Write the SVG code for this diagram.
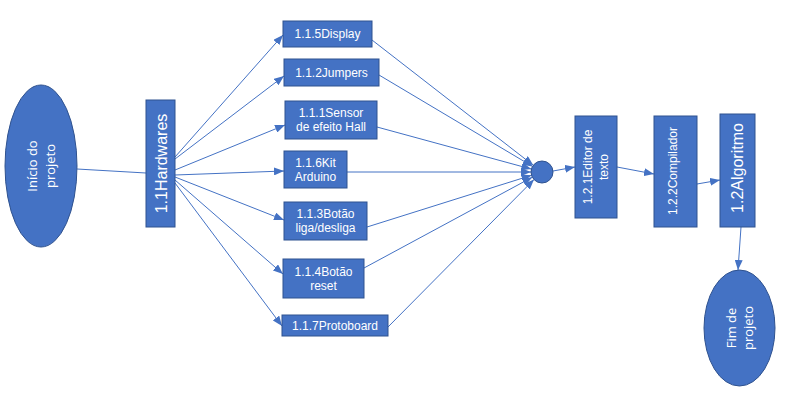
<svg xmlns="http://www.w3.org/2000/svg" width="785" height="401" viewBox="0 0 785 401">
<defs>
<marker id="arr" markerUnits="userSpaceOnUse" markerWidth="10" markerHeight="8" refX="10" refY="4" orient="auto">
<path d="M0,0 L10,4 L0,8 z" fill="#4472C4"/>
</marker>
<style>
.n{fill:#4472C4;stroke:#2F528F;stroke-width:1}
.t{fill:#FFFFFF;font-family:"Liberation Sans",Arial,sans-serif;font-size:12px;text-anchor:middle}
.b{font-size:16px}
.o{fill:#FFFFFF;font-family:"Open Sans","Noto Sans",sans-serif;font-size:13px;text-anchor:middle}
.c{stroke:#4472C4;stroke-width:1;fill:none}
.a{marker-end:url(#arr)}
</style>
</defs>
<rect width="785" height="401" fill="#FFFFFF"/>
<g id="connectors">
<line class="c" x1="77" y1="169" x2="146" y2="173"/>
<line class="c a" x1="175" y1="157" x2="283" y2="35"/>
<line class="c a" x1="175" y1="159" x2="284" y2="76"/>
<line class="c a" x1="175" y1="170" x2="285" y2="125"/>
<line class="c a" x1="175" y1="175" x2="284" y2="171"/>
<line class="c a" x1="175" y1="177" x2="284" y2="220"/>
<line class="c a" x1="175" y1="180" x2="283" y2="274"/>
<line class="c a" x1="175" y1="183" x2="282" y2="326"/>
<line class="c a" x1="372" y1="40" x2="533.3" y2="165.3"/>
<line class="c a" x1="379" y1="75" x2="532.5" y2="166.4"/>
<line class="c a" x1="377" y1="127" x2="531.4" y2="169.1"/>
<line class="c a" x1="347" y1="172" x2="531" y2="172"/>
<line class="c a" x1="367" y1="227" x2="531.5" y2="175.3"/>
<line class="c a" x1="364" y1="268" x2="532.3" y2="177.2"/>
<line class="c a" x1="388" y1="327" x2="534" y2="179.5"/>
<line class="c a" x1="553" y1="171" x2="575" y2="167"/>
<line class="c a" x1="617" y1="167" x2="654" y2="174"/>
<line class="c a" x1="697" y1="184" x2="720" y2="180"/>
<line class="c a" x1="741" y1="227" x2="738" y2="270"/>
</g>
<g id="inicio">
<ellipse class="n" cx="41" cy="166" rx="36" ry="81"/>
<text class="o" transform="translate(41,166) rotate(-90)"><tspan x="0" y="-4">Início do</tspan><tspan x="0" y="13.5">projeto</tspan></text>
</g>
<g id="hardwares">
<rect class="n" x="146" y="100" width="29" height="127"/>
<text class="t b" transform="translate(161,163.5) rotate(-90)" x="0" y="5.6">1.1Hardwares</text>
</g>
<g id="display">
<rect class="n" x="283" y="21" width="89" height="26"/>
<text class="t" x="327.5" y="38.2">1.1.5Display</text>
</g>
<g id="jumpers">
<rect class="n" x="284" y="59" width="95" height="27"/>
<text class="t" x="331.5" y="76.7">1.1.2Jumpers</text>
</g>
<g id="sensor">
<rect class="n" x="285" y="101" width="92" height="38"/>
<text class="t"><tspan x="331" y="117.2">1.1.1Sensor</tspan><tspan x="331" y="131.2">de efeito Hall</tspan></text>
</g>
<g id="kit">
<rect class="n" x="284" y="151" width="63" height="37"/>
<text class="t"><tspan x="315.5" y="166.7">1.1.6Kit</tspan><tspan x="315.5" y="180.7">Arduino</tspan></text>
</g>
<g id="botao">
<rect class="n" x="284" y="202" width="83" height="38"/>
<text class="t"><tspan x="325.5" y="218.2">1.1.3Botão</tspan><tspan x="325.5" y="232.2">liga/desliga</tspan></text>
</g>
<g id="reset">
<rect class="n" x="283" y="259" width="81" height="39"/>
<text class="t"><tspan x="323.5" y="275.7">1.1.4Botão</tspan><tspan x="323.5" y="289.7">reset</tspan></text>
</g>
<g id="protoboard">
<rect class="n" x="282" y="315" width="106" height="21"/>
<text class="t" x="335" y="329.7">1.1.7Protoboard</text>
</g>
<g id="juncao">
<circle class="n" cx="542" cy="172" r="11"/>
</g>
<g id="editor">
<rect class="n" x="575" y="116" width="42" height="102"/>
<text class="t" transform="translate(596,167) rotate(-90)"><tspan x="0" y="-3.8">1.2.1Editor de</tspan><tspan x="0" y="12.2">texto</tspan></text>
</g>
<g id="compilador">
<rect class="n" x="654" y="116" width="43" height="111"/>
<text class="t" transform="translate(673,171) rotate(-90)" x="0" y="4.2">1.2.2Compilador</text>
</g>
<g id="algoritmo">
<rect class="n" x="720" y="114" width="35" height="113"/>
<text class="t b" transform="translate(737.5,168) rotate(-90)" x="0" y="5.6">1.2Algoritmo</text>
</g>
<g id="fim">
<ellipse class="n" cx="739.5" cy="328" rx="35.5" ry="58"/>
<text class="o" transform="translate(739.5,328) rotate(-90)"><tspan x="0" y="-4">Fim de</tspan><tspan x="0" y="13.5">projeto</tspan></text>
</g>
</svg>
